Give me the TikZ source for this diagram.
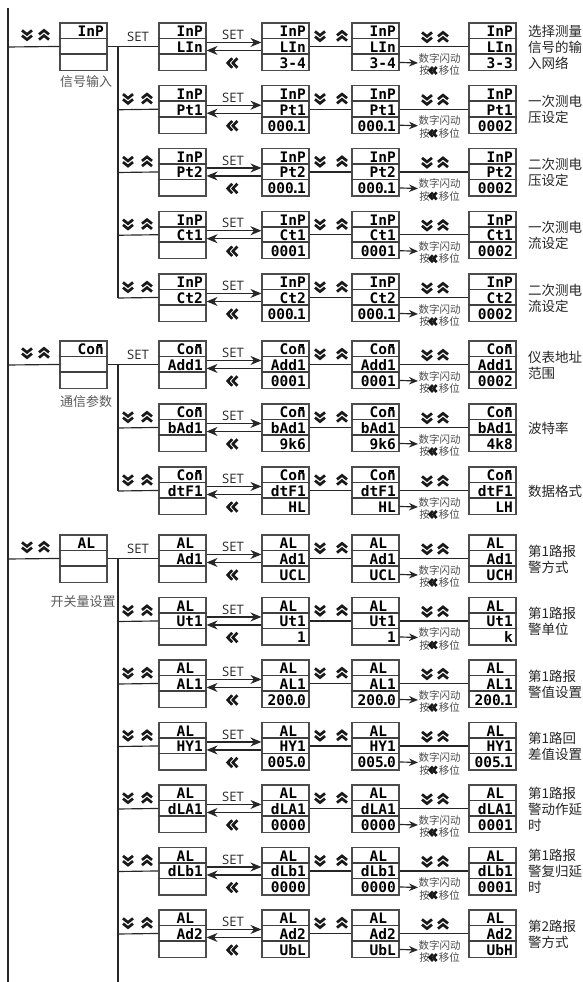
\documentclass[tikz,border=0pt]{standalone}
\usepackage{fontspec}
\setmainfont{Open Sans}
\newfontfamily\cjk{Noto Sans CJK SC}
\newfontfamily\lcdfont{DejaVu Sans Mono}
\usetikzlibrary{arrows.meta}
\newcommand\nbar{\makebox[0pt][l]{\hspace{0.1em}\raisebox{0.64em}{\rule{0.4em}{0.11em}}}n}
\newcommand\dotx{\makebox[0.22em]{.}}
\newcommand\ALt{AL\phantom{0}}
\newcommand\Con{Co\nbar}
\tikzset{
 lcdframe/.style={draw=black!70, line width=1.1pt, minimum width=47pt, minimum height=47.5pt, inner sep=0pt},
 cellsep/.style={draw=black!75, line width=1.8pt},
 lcd/.style={anchor=base east, inner sep=0pt, font=\lcdfont\bfseries\fontsize{14.5}{14.5}\selectfont},
 conn/.style={draw=black!85, line width=1.15pt},
 arr/.style={-{Stealth[length=11pt,width=9pt,inset=3.5pt]}},
 sarr/.style={-{Stealth[length=9pt,width=7.5pt,inset=3pt]}},
 chev/.style={draw=black!90, line width=2.7pt, line join=miter},
 setlab/.style={inner sep=0pt, font=\fontsize{13}{13}\selectfont, text=black!85},
 smalltxt/.style={inner sep=0pt, text=black!70, font=\cjk\fontsize{10.5}{10.5}\selectfont},
 desctxt/.style={anchor=west, inner sep=0pt, align=left, font=\cjk\fontsize{13.5}{16}\selectfont, text=black!85},
 mlab/.style={inner sep=0pt, text=black!65, font=\cjk\fontsize{13}{13}\selectfont},
 dchev/.pic={\draw[chev] (-5,-4.6)--(0,-0.6)--(5,-4.6); \draw[chev] (-5,0.6)--(0,4.6)--(5,0.6);},
 uchev/.pic={\draw[chev] (-5,4.6)--(0,0.6)--(5,4.6); \draw[chev] (-5,-0.6)--(0,-4.6)--(5,-0.6);},
 lchev/.pic={\draw[chev] (-0.8,-4.8)--(-5.3,0)--(-0.8,4.8); \draw[chev] (4.4,-4.8)--(-0.1,0)--(4.4,4.8);},
}
% #1 name, #2 x, #3 top, #4 #5 #6 texts
\newcommand\lcdbox[6]{%
 \node[lcdframe] (#1) at (#2+23.5,#3+23.75) {};
 \draw[cellsep] ([yshift=-16pt]#1.north west) -- ([yshift=-16pt]#1.north east);
 \draw[cellsep] ([yshift=-31.5pt]#1.north west) -- ([yshift=-31.5pt]#1.north east);
 \node[lcd] (#1t) at (#2+44,#3+13.8) {#4};
 \node[lcd] (#1m) at (#2+44,#3+29.3) {#5};
 \node[lcd] (#1b) at (#2+44,#3+45.3) {#6};
}
% #1 id, #2 top, #3 top text, #4 mid text, #5 bottom col3/4, #6 bottom col5, #7 label
\newcommand\subrow[7]{%
 \coordinate (#1j) at (118,#2+24);
 \lcdbox{#1a}{159}{#2}{#3}{#4}{}
 \lcdbox{#1b}{262}{#2}{#3}{#4}{#5}
 \lcdbox{#1c}{352}{#2}{#3}{#4}{#5}
 \lcdbox{#1d}{469}{#2}{#3}{#4}{#6}
 \draw[conn,arr] ([yshift=-20pt]#1a.north east) -- ([yshift=-20pt]#1b.north west);
 \node[setlab] (#1set) at (233,#2+12) {SET};
 \draw[conn,arr] ([yshift=-28pt]#1b.north west) -- ([yshift=-28pt]#1a.north east);
 \pic at (233,#2+40) {lchev};
 \draw[conn] ([yshift=-24pt]#1b.north east) -- ([yshift=-24pt]#1c.north west);
 \pic at (320,#2+13) {dchev}; \pic at (342,#2+13) {uchev};
 \draw[conn] ([yshift=-24pt]#1c.north east) -- ([yshift=-24pt]#1d.north west);
 \pic at (427,#2+14) {dchev}; \pic at (443,#2+14) {uchev};
 \coordinate (#1p) at (418,#2+40);
 \draw[conn,sarr] ([yshift=-40pt]#1c.north east) -- (#1p);
 \node[smalltxt] (#1s1) at (439.5,#2+35) {数字闪动};
 \node[smalltxt] (#1s2) at (439.5,#2+47.5) {按\hspace{9pt}移位};
 \pic[scale=0.72] at (433.5,#2+47.5) {lchev};
 \node[desctxt] (#1l) at (528,#2+24) {#7};
}
\newcommand\branch[2]{%
 \draw[conn] (#1j) -- ([yshift=-24pt]#1a.north west);
 \pic at (128,#2+13) {dchev}; \pic at (147,#2+13) {uchev};
}
% #1 id, #2 top, #3 text, #4 first subrow id
\newcommand\mainrow[4]{%
 \lcdbox{#1}{60}{#2}{#3}{}{}
 \coordinate (#1v) at (8,#2+24);
 \draw[conn] (#1v) -- ([yshift=-24pt]#1.north west);
 \draw[conn] ([yshift=-24pt]#1.north east) -- ([yshift=-24pt]#4a.north west);
 \pic at (27,#2+12) {dchev}; \pic at (44,#2+12) {uchev};
 \node[setlab] (#1set) at (138,#2+14) {SET};
}
\begin{document}
\begin{tikzpicture}[x=1pt,y=-1pt]
\useasboundingbox (0,0) rectangle (583,982);
\coordinate (vtop) at (8,8);
\coordinate (vbot) at (8,982);
\draw[conn] (vtop) -- (vbot);
% ---- InP group
\subrow{r1}{23}{InP}{LIn}{3-4}{3-3}{选择测量\\信号的输\\入网络}
\subrow{r2}{85.75}{InP}{Pt1}{000\dotx1}{0002}{一次测电\\压设定}
\subrow{r3}{148.5}{InP}{Pt2}{000\dotx1}{0002}{二次测电\\压设定}
\subrow{r4}{211.25}{InP}{Ct1}{0001}{0002}{一次测电\\流设定}
\subrow{r5}{274}{InP}{Ct2}{000\dotx1}{0002}{二次测电\\流设定}
\branch{r2}{85.75}\branch{r3}{148.5}\branch{r4}{211.25}\branch{r5}{274}
\mainrow{m1}{23}{InP}{r1}
\node[mlab] (m1lab) at (86,82) {信号输入};
\draw[conn] (r1j) -- (r5j);
% ---- Con group
\subrow{c1}{341}{\Con}{Add1}{0001}{0002}{仪表地址\\范围}
\subrow{c2}{404}{\Con}{bAd1}{9k6}{4k8}{波特率}
\subrow{c3}{467}{\Con}{dtF1}{HL}{LH}{数据格式}
\branch{c2}{404}\branch{c3}{467}
\mainrow{m2}{341}{\Con}{c1}
\node[mlab] (m2lab) at (86,402) {通信参数};
\draw[conn] (c1j) -- (c3j);
% ---- AL group
\subrow{a1}{535}{\ALt}{Ad1}{UCL}{UCH}{第1路报\\警方式}
\subrow{a2}{597.5}{\ALt}{Ut1}{1}{k}{第1路报\\警单位}
\subrow{a3}{660}{\ALt}{AL1}{200\dotx0}{200\dotx1}{第1路报\\警值设置}
\subrow{a4}{722.5}{\ALt}{HY1}{005\dotx0}{005\dotx1}{第1路回\\差值设置}
\subrow{a5}{785}{\ALt}{dLA1}{0000}{0001}{第1路报\\警动作延\\时}
\subrow{a6}{847.5}{\ALt}{dLb1}{0000}{0001}{第1路报\\警复归延\\时}
\subrow{a7}{910}{\ALt}{Ad2}{UbL}{UbH}{第2路报\\警方式}
\branch{a2}{597.5}\branch{a3}{660}\branch{a4}{722.5}\branch{a5}{785}\branch{a6}{847.5}\branch{a7}{910}
\mainrow{m3}{535}{\ALt}{a1}
\node[mlab] (m3lab) at (83,602) {开关量设置};
\coordinate (abot) at (118,982);
\draw[conn] (a1j) -- (abot);
\end{tikzpicture}
\end{document}
